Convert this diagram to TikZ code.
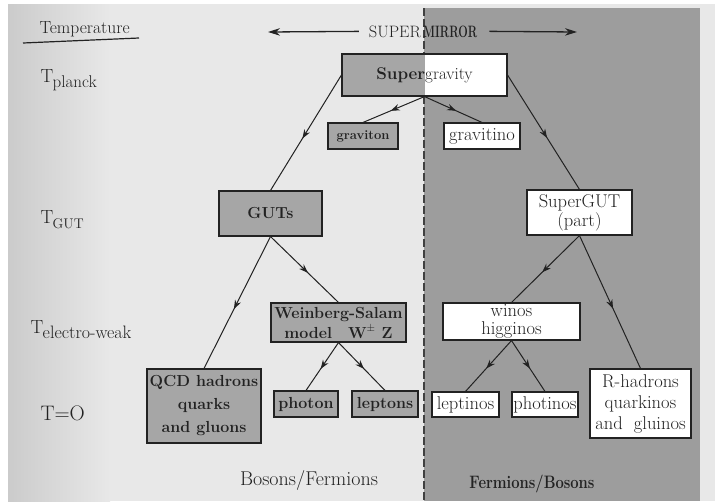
\documentclass[tikz,border=0pt]{standalone}
\usepackage{graphicx}
\usetikzlibrary{arrows.meta,decorations.markings}

\definecolor{paper}{HTML}{E8E8E8}
\definecolor{paperedge}{HTML}{CBCBCB}
\definecolor{mirrorgrey}{HTML}{9D9D9D}
\definecolor{boxgrey}{HTML}{A6A6A6}
\definecolor{ink}{HTML}{222222}

% temperature label with a lowered, slightly smaller index
\newcommand{\Tsub}[2]{T\kern-0.5pt\raisebox{-5pt}{\fontsize{#1}{#1}\selectfont #2}}

\begin{document}
\begin{tikzpicture}[x=1pt,y=-1pt,
  every node/.style={text=ink},
  level/.style={anchor=base west, font=\fontsize{19}{19}\selectfont},
  greybox/.style={draw=ink, line width=1.1pt, fill=boxgrey, inner sep=0pt,
    align=center, font=\fontsize{16}{21}\selectfont\bfseries},
  whitebox/.style={draw=ink, line width=1.1pt, fill=white, inner sep=0pt,
    align=center, font=\fontsize{18.5}{21}\selectfont},
  flow/.style={draw=ink, line width=1pt, postaction={decorate},
    decoration={markings, mark=at position 0.55 with {\arrow{Stealth[length=9pt,width=6.5pt]}}}},
  headarrow/.style={draw=ink, line width=1.3pt, -{Stealth[length=12pt,width=7.5pt]}},
  divider/.style={draw=black!75, line width=1.4pt, dash pattern=on 8pt off 3pt},
]
\useasboundingbox (0,0) rectangle (715,501);

% paper and the shaded mirror half
\fill[white] (0,0) rectangle (715,501);
\shade[left color=paperedge, right color=paper] (8,4) rectangle (110,501);
\fill[paper] (110,4) rectangle (715,501);
\fill[mirrorgrey] (424,8) rectangle (700,501);
\draw[divider] (424,8) -- (424,501);

% temperature scale
\node[anchor=base west, font=\fontsize{17.5}{17.5}\selectfont] (temp) at (36,33) {Temperature};
\draw[ink, line width=1.2pt] (23,43) -- (139,38);
\node[level] (tpl) at (37,82) {\Tsub{17}{planck}};
\node[level] (tgut) at (37,223) {\Tsub{14}{GUT}};
\node[level] (tew) at (27,333) {\Tsub{18}{electro-weak}};
\node[level, font=\fontsize{21}{21}\selectfont] (tzero) at (37,420) {T=O};

% heading with arrows pointing to both halves
\node[anchor=base east, inner xsep=10pt, font=\fontsize{16.5}{16.5}\selectfont] (super) at (431,37) {SUPER};
\node[anchor=base west, inner xsep=12pt, font=\fontsize{16.5}{16.5}\selectfont\bfseries] (mirrorword) at (411,37) {\scalebox{0.68}[1]{MIRROR}};
\coordinate (lefttip) at (268,32);
\coordinate (righttip) at (577,32);
\draw[headarrow] (super.west) -- (lefttip);
\draw[headarrow] (mirrorword.east) -- (righttip);

% boxes
\node[whitebox, minimum width=165pt, minimum height=42pt,
  path picture={\fill[boxgrey] (path picture bounding box.south west) rectangle (path picture bounding box.north);}]
  (sugra) at (424.5,75) {\fontsize{17}{17}\selectfont{\bfseries Super}gravity};
\node[greybox, minimum width=70pt, minimum height=26pt, font=\fontsize{13}{13}\selectfont\bfseries] (graviton) at (363,136) {graviton};
\node[whitebox, minimum width=76pt, minimum height=26pt] (gravitino) at (482,136) {gravitino};

\node[greybox, minimum width=103pt, minimum height=45pt] (guts) at (270.5,213.5) {GUTs};
\node[whitebox, minimum width=105pt, minimum height=45pt, font=\fontsize{18.5}{19}\selectfont] (sgut) at (579.5,212.5) {SuperGUT\\(part)};

\node[greybox, minimum width=135pt, minimum height=39pt, font=\fontsize{16}{20}\selectfont\bfseries] (ws) at (338.5,322.5) {Weinberg-Salam\\model\quad W$^{\pm}$\ Z};
\node[whitebox, minimum width=137pt, minimum height=37pt, font=\fontsize{18.5}{18}\selectfont] (winos) at (511.5,321.5) {winos\\higginos};

\node[greybox, minimum width=114pt, minimum height=74pt, font=\fontsize{16}{23}\selectfont\bfseries] (qcd) at (204,406) {QCD hadrons\\quarks\\and gluons};
\node[greybox, minimum width=64pt, minimum height=26pt] (photon) at (306,404) {photon};
\node[greybox, minimum width=66pt, minimum height=26pt] (leptons) at (385,404) {leptons};
\node[whitebox, minimum width=67pt, minimum height=25pt] (leptinos) at (465.5,404.5) {leptinos};
\node[whitebox, minimum width=66pt, minimum height=25pt] (photinos) at (545,404.5) {photinos};
\node[whitebox, minimum width=101pt, minimum height=69pt] (rhad) at (640.5,403.5) {R-hadrons\\quarkinos\\and\ \ gluinos};

% footers of the two halves
\node[anchor=base, font=\fontsize{20}{20}\selectfont] (bf) at (309,485) {Bosons/Fermions};
\node[anchor=base, font=\fontsize{18}{18}\selectfont\bfseries] (fb) at (532,488) {\scalebox{0.82}[1]{Fermions/Bosons}};

% decay lines
\draw[flow] (sugra.south) -- (graviton.north);
\draw[flow] (sugra.south) -- (gravitino.north);
\draw[flow] (sugra.west) -- (guts.north);
\draw[flow] (sugra.east) -- (sgut.north);
\draw[flow] (guts.south) -- (qcd.north);
\draw[flow] (guts.south) -- (ws.north);
\draw[flow] (ws.south) -- (photon.north);
\draw[flow] (ws.south) -- (leptons.north);
\draw[flow] (sgut.south) -- (winos.north);
\draw[flow] (sgut.south) -- (rhad.north);
\draw[flow] (winos.south) -- (leptinos.north);
\draw[flow] (winos.south) -- (photinos.north);
\end{tikzpicture}
\end{document}
